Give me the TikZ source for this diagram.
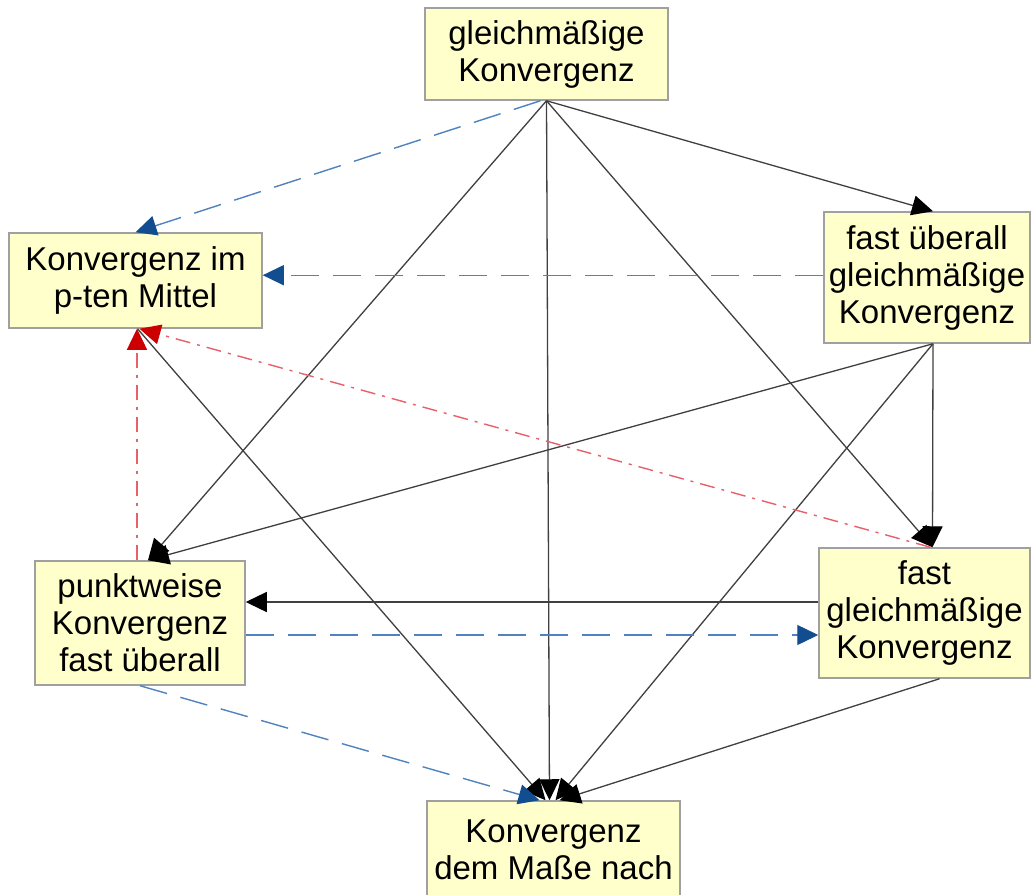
\documentclass[tikz,border=0pt]{standalone}
\usepackage{fontspec}
\setmainfont{Liberation Sans}
\usetikzlibrary{arrows.meta}
\definecolor{boxfill}{HTML}{FFFFCC}
\definecolor{boxline}{HTML}{A0A0A0}
\definecolor{edgegray}{HTML}{404040}
\definecolor{bluel}{HTML}{4F82BE}
\definecolor{blued}{HTML}{124E8F}
\definecolor{redl}{HTML}{E8606A}
\definecolor{redd}{HTML}{CC0000}
\begin{document}
\begin{tikzpicture}[x=1pt,y=-1pt,
  box/.style={draw=boxline, line width=1.5pt, fill=boxfill, inner sep=0pt, align=center,
    font=\fontsize{33}{37}\selectfont},
  imp/.style={draw=edgegray, line width=1.3pt, -{Triangle[length=21pt,width=20pt,color=black]}},
  blu/.style={draw=bluel, line width=1.4pt, dash pattern=on 28pt off 14pt, -{Triangle[length=21pt,width=20pt,color=blued]}},
  rdd/.style={draw=redl, line width=1.4pt, dash pattern=on 15pt off 7pt on 3pt off 7pt, -{Triangle[length=21pt,width=20pt,color=redd]}}]
\useasboundingbox (0,0) rectangle (1033,894);
\clip (0,0) rectangle (1033,894);
\fill[white] (0,0) rectangle (1033,894);
\node[box, minimum width=243pt, minimum height=92pt] (gk) at (546.5,54) {gleichmäßige\\Konvergenz};
\node[box, minimum width=253pt, minimum height=95pt] (pm) at (135.5,280.5) {Konvergenz im\\p-ten Mittel};
\node[box, minimum width=206pt, minimum height=131pt] (fug) at (927,277.5) {fast überall\\gleichmäßige\\Konvergenz};
\node[box, minimum width=210pt, minimum height=124pt] (pw) at (140,623) {punktweise\\Konvergenz\\fast überall};
\node[box, minimum width=211pt, minimum height=130pt] (fg) at (924.5,613) {fast\\gleichmäßige\\Konvergenz};
\node[box, minimum width=253pt, minimum height=98pt] (mn) at (553.5,850) {Konvergenz\\dem Maße nach};
% from gleichmaessige Konvergenz
\draw[imp] (gk.south) -- ([xshift=6pt]fug.north);
\draw[imp] (gk.south) -- ([xshift=8pt]pw.north);
\draw[imp] (gk.south) -- ([xshift=-4pt]mn.north);
\draw[imp] (gk.south) -- ([xshift=8pt]fg.north);
\draw[blu] ([xshift=-6pt]gk.south) -- (pm.north);
% from fast ueberall gleichmaessige Konvergenz
\draw[blu] ([yshift=2.3pt]fug.west) -- ([yshift=2.3pt]fug.west -| pm.east);
\draw[imp] ([xshift=6pt]fug.south) -- ([xshift=8pt]fg.north);
\draw[imp] ([xshift=6pt]fug.south) -- ([xshift=8pt]pw.north);
\draw[imp] ([xshift=6pt]fug.south) -- ([xshift=2pt]mn.north);
% red
\draw[rdd] ([xshift=6pt]fg.north) -- ([xshift=4pt]pm.south);
\draw[rdd] ([xshift=-3pt]pw.north) -- ([xshift=1.5pt]pm.south);
% p-ten Mittel
\draw[imp] ([xshift=2pt]pm.south) -- ([xshift=-8pt]mn.north);
% fast gleichmaessig <-> punktweise
\draw[imp] ([yshift=11pt]fg.west) -- ([yshift=11pt]fg.west -| pw.east);
\draw[blu] ([yshift=-12pt]pw.east) -- ([yshift=-12pt]pw.east -| fg.west);
\draw[blu] (pw.south) -- ([xshift=-14pt]mn.north);
\draw[imp] ([xshift=15pt]fg.south) -- ([xshift=6pt]mn.north);
\end{tikzpicture}
\end{document}
